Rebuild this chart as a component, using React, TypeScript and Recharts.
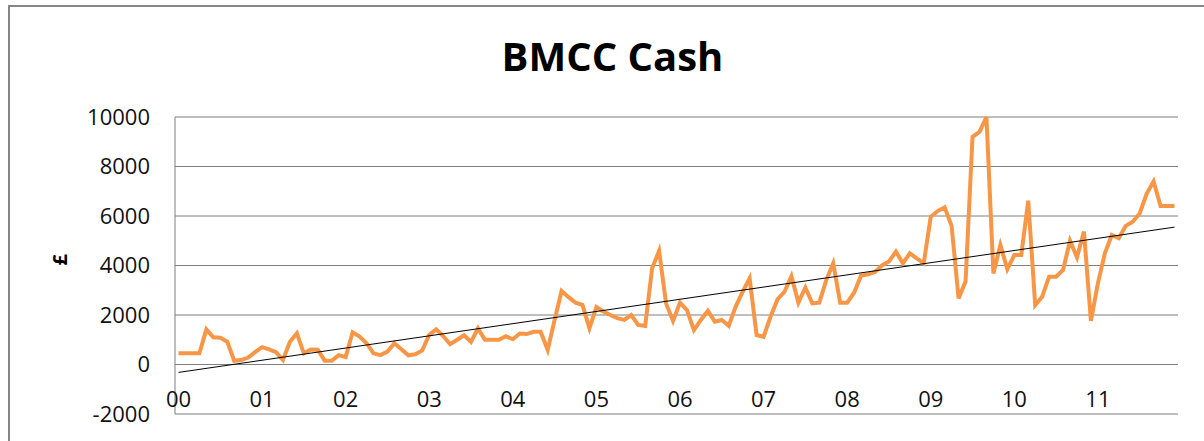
import { CartesianGrid, Line, LineChart, ReferenceLine, XAxis, YAxis } from 'recharts';

const years = ['00', '01', '02', '03', '04', '05', '06', '07', '08', '09', '10', '11'];
const months = ['Jan', 'Feb', 'Mar', 'Apr', 'May', 'Jun', 'Jul', 'Aug', 'Sep', 'Oct', 'Nov', 'Dec'];

// monthly cash balance, one array per year
const cash00 = [450, 450, 450, 450, 1420, 1100, 1080, 920, 150, 180, 280, 500];
const cash01 = [700, 610, 500, 180, 920, 1260, 450, 610, 600, 150, 150, 380];
const cash02 = [300, 1300, 1130, 860, 450, 380, 520, 860, 620, 370, 410, 570];
const cash03 = [1200, 1420, 1150, 820, 1000, 1180, 910, 1460, 1000, 1000, 1000, 1140];
const cash04 = [1020, 1250, 1230, 1320, 1320, 590, 1800, 2970, 2720, 2500, 2410, 1460];
const cash05 = [2320, 2140, 2000, 1870, 1800, 2000, 1600, 1560, 3890, 4590, 2470, 1760];
const cash06 = [2500, 2200, 1390, 1800, 2170, 1730, 1800, 1560, 2340, 2940, 3480, 1190];
const cash07 = [1120, 1930, 2630, 2940, 3570, 2500, 3110, 2470, 2500, 3410, 4090, 2500];
const cash08 = [2500, 2900, 3590, 3640, 3740, 4000, 4160, 4560, 4090, 4490, 4290, 4090];
const cash09 = [5970, 6200, 6350, 5600, 2670, 3350, 9200, 9400, 10000, 3680, 4830, 3850];
const cash10 = [4420, 4420, 6620, 2400, 2740, 3550, 3550, 3820, 5000, 4330, 5370, 1760];
const cash11 = [3280, 4490, 5230, 5100, 5600, 5770, 6100, 6900, 7400, 6400, 6400, 6400];

const cashByYear = [cash00, cash01, cash02, cash03, cash04, cash05, cash06, cash07, cash08, cash09, cash10, cash11];

// linear trend line end points
const trendStart = -320;
const trendEnd = 5550;

const yTicks = [-2000, 0, 2000, 4000, 6000, 8000, 10000];

const data = years.flatMap((yr, yi) =>
  months.map((m, mi) => ({ period: `${m} ${yr}`, cash: cashByYear[yi][mi] }))
);

const FONT = '"Open Sans", sans-serif';

function YearTick(props: any) {
  const { x, y, payload } = props;
  return (
    <text x={x} y={y - 7} textAnchor="middle" fill="#111" fontSize={22} fontFamily={FONT}>
      {String(payload.value).split(' ')[1]}
    </text>
  );
}

export default function App() {
  return (
    <div style={{ position: 'absolute', left: 0, top: 0, width: 1204, height: 441, overflow: 'hidden', background: '#fff' }}>
      <div
        style={{
          position: 'absolute',
          left: 8,
          top: 5,
          width: 1260,
          height: 500,
          border: '2px solid #868686',
          boxSizing: 'border-box',
        }}
      />
      <div
        style={{
          position: 'absolute',
          left: 0,
          top: 36,
          width: 1225,
          textAlign: 'center',
          fontFamily: FONT,
          fontWeight: 700,
          fontSize: 40,
          lineHeight: '40px',
          color: '#000',
        }}
      >
        BMCC Cash
      </div>
      <div style={{ position: 'absolute', left: 0, top: 0 }}>
        <LineChart width={1204} height={441} data={data} margin={{ top: 117, right: 26, bottom: 0, left: 8 }}>
          <CartesianGrid vertical={false} stroke="#7f7f7f" strokeWidth={1} />
          <XAxis
            dataKey="period"
            interval={11}
            height={27}
            padding={{ left: 3.5, right: 3.5 }}
            axisLine={false}
            tickLine={false}
            tickSize={0}
            tickMargin={0}
            tick={<YearTick />}
          />
          <YAxis
            domain={[-2000, 10000]}
            ticks={yTicks}
            width={167}
            axisLine={{ stroke: '#7f7f7f' }}
            tickLine={false}
            tickSize={0}
            tickMargin={25}
            tick={{ fill: '#111', fontSize: 22, fontFamily: FONT }}
            label={{
              value: '£',
              angle: -90,
              position: 'insideLeft',
              offset: 52,
              style: { fill: '#000', fontSize: 20, fontWeight: 700, fontFamily: FONT },
            }}
          />
          <Line
            type="linear"
            dataKey="cash"
            stroke="#f79646"
            strokeWidth={4}
            dot={false}
            isAnimationActive={false}
          />
          <ReferenceLine
            segment={[
              { x: data[0].period, y: trendStart },
              { x: data[data.length - 1].period, y: trendEnd },
            ]}
            stroke="#000"
            strokeWidth={1}
          />
        </LineChart>
      </div>
    </div>
  );
}
